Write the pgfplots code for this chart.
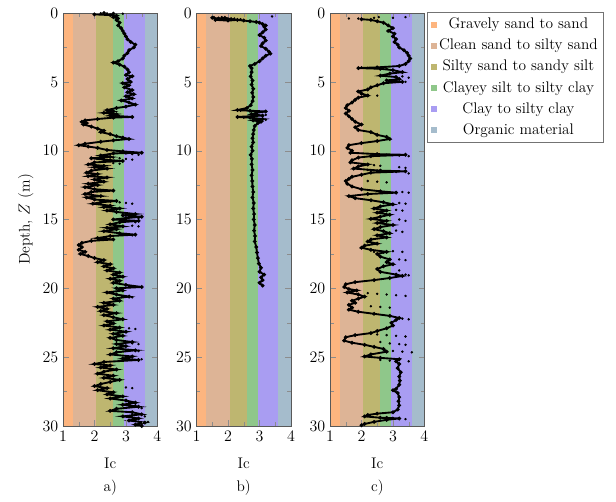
\documentclass[border=0pt]{standalone}
\usepackage{pgfplots}
\pgfplotsset{compat=1.18}
\definecolor{orangeL}{RGB}{253,181,127}
\definecolor{tanL}{RGB}{221,180,150}
\definecolor{oliveL}{RGB}{190,182,112}
\definecolor{greenL}{RGB}{143,199,138}
\definecolor{purpleL}{RGB}{169,157,242}
\definecolor{blueL}{RGB}{165,188,204}
\pgfplotsset{
  cptstyle/.style={
    scale only axis, width=70.8pt, height=309.75pt,
    anchor=south west,
    xmin=1, xmax=4, ymin=0, ymax=30, y dir=reverse,
    xtick={1,2,3,4}, ytick={0,5,...,30},
    minor xtick={1.5,2.5,3.5}, minor ytick={2.5,7.5,...,27.5},
    tick style={black!45}, axis line style={black!65},
    axis on top,
    xlabel={Ic},
    xlabel style={at={(axis description cs:0.5,0)}, anchor=center, yshift=-27.75pt},
    font=\fontsize{11.5}{13.8}\selectfont,
    tick label style={font=\fontsize{11.5}{13.8}\selectfont},
    label style={font=\fontsize{11.5}{13.8}\selectfont},
  },
  trace/.style={black, line width=1.4pt, mark=*, mark size=0.6pt},
  dotrow/.style={black, only marks, mark=*, mark size=0.7pt},
}
\newcommand{\bands}{%
  \fill[orangeL] (axis cs:1,0) rectangle (axis cs:1.31,30);
  \fill[tanL] (axis cs:1.31,0) rectangle (axis cs:2.05,30);
  \fill[oliveL] (axis cs:2.05,0) rectangle (axis cs:2.6,30);
  \fill[greenL] (axis cs:2.6,0) rectangle (axis cs:2.95,30);
  \fill[purpleL] (axis cs:2.95,0) rectangle (axis cs:3.6,30);
  \fill[blueL] (axis cs:3.6,0) rectangle (axis cs:4,30);
}
\begin{document}
\begin{tikzpicture}
\path[use as bounding box] (0,0) rectangle (462pt,375.75pt);
% ---------------- a)
\begin{axis}[cptstyle, at={(47.25pt,56.25pt)}, ylabel={Depth, $Z$ (m)}]
\bands
\addplot[trace] coordinates {
(2.3,0.0)(2.6,0.05)(2.0,0.1)(2.5,0.15)(2.7,0.2)(2.6,0.3)(2.75,0.4)(2.7,0.5)(2.8,0.7)(2.75,0.9)(2.85,1.1)(2.9,1.3)(2.95,1.5)(3.0,1.7)(3.05,1.9)(3.15,2.1)(3.3,2.3)(3.25,2.5)(3.1,2.7)(3.05,2.9)(2.95,3.1)(2.9,3.3)(2.75,3.5)(2.6,3.6)(2.8,3.75)(2.95,3.9)(3.05,4.1)(3.1,4.3)(3.0,4.5)(3.2,4.6)(3.05,4.8)(3.15,5.0)(2.9,5.1)(3.1,5.25)(2.95,5.4)(3.2,5.6)(3.05,5.75)(3.25,5.9)(3.0,6.05)(3.2,6.2)(2.85,6.35)(3.1,6.5)(3.3,6.65)(3.0,6.8)(2.7,6.9)(2.4,7.05)(2.6,7.15)(2.3,7.25)(2.7,7.35)(2.5,7.45)(3.2,7.55)(2.6,7.6)(2.1,7.7)(1.7,7.8)(1.6,7.9)(1.75,8.0)(1.65,8.1)(1.9,8.25)(2.1,8.4)(2.3,8.55)(2.2,8.65)(2.5,8.8)(2.7,8.95)(2.9,9.05)(3.1,9.15)(2.6,9.25)(2.2,9.35)(1.7,9.5)(1.5,9.6)(1.8,9.7)(2.1,9.8)(2.4,9.95)(2.9,10.05)(3.5,10.15)(2.6,10.2)(2.2,10.35)(2.5,10.45)(1.9,10.55)(2.3,10.65)(2.9,10.75)(2.0,10.85)(1.8,11.0)(2.3,11.1)(2.0,11.2)(2.4,11.3)(1.9,11.45)(1.75,11.6)(2.1,11.7)(1.8,11.85)(2.4,11.95)(2.0,12.1)(2.3,12.25)(1.8,12.4)(2.1,12.5)(1.7,12.65)(2.0,12.8)(2.6,12.9)(1.9,13.0)(1.7,13.15)(2.2,13.3)(1.75,13.4)(2.0,13.55)(2.7,13.65)(2.2,13.75)(1.95,13.85)(2.5,14.0)(2.3,14.1)(2.8,14.2)(2.4,14.35)(2.7,14.45)(3.3,14.6)(2.9,14.7)(3.5,14.8)(3.0,14.9)(2.6,15.0)(3.4,15.1)(2.8,15.2)(2.5,15.35)(2.9,15.5)(2.4,15.6)(2.7,15.7)(2.3,15.85)(2.8,16.0)(3.3,16.1)(2.5,16.2)(2.1,16.35)(2.6,16.45)(1.9,16.55)(1.6,16.7)(1.5,16.85)(1.6,17.0)(1.5,17.2)(1.7,17.35)(1.55,17.5)(1.8,17.65)(2.0,17.8)(2.3,17.95)(2.1,18.1)(2.5,18.25)(2.3,18.4)(2.6,18.55)(2.4,18.7)(2.8,18.85)(2.6,19.0)(2.9,19.15)(2.5,19.3)(2.8,19.45)(2.6,19.6)(3.0,19.75)(3.5,19.9)(2.7,20.0)(2.9,20.15)(2.4,20.3)(2.7,20.45)(3.1,20.6)(2.6,20.75)(2.8,20.9)(2.3,21.05)(2.6,21.2)(2.1,21.35)(2.4,21.5)(2.2,21.65)(2.7,21.8)(2.3,21.95)(2.6,22.1)(2.9,22.25)(2.4,22.4)(2.6,22.55)(2.3,22.7)(2.8,22.85)(2.5,23.0)(3.0,23.15)(2.6,23.3)(2.9,23.45)(2.5,23.6)(2.7,23.75)(3.2,23.9)(2.7,24.05)(3.0,24.2)(2.6,24.35)(3.3,24.5)(2.7,24.65)(2.5,24.8)(3.2,24.95)(2.9,25.1)(3.4,25.2)(2.3,25.35)(2.0,25.5)(2.5,25.6)(2.2,25.75)(2.7,25.9)(2.3,26.05)(2.1,26.2)(2.6,26.35)(2.3,26.5)(2.8,26.65)(2.5,26.8)(2.2,26.95)(2.0,27.1)(2.4,27.25)(2.1,27.4)(2.6,27.55)(2.4,27.7)(2.9,27.85)(2.5,28.0)(3.0,28.15)(3.3,28.3)(2.9,28.45)(3.4,28.6)(2.7,28.75)(2.5,28.9)(3.2,29.0)(3.5,29.15)(2.9,29.3)(3.4,29.45)(3.1,29.6)(3.6,29.75)(3.3,29.9)(3.5,30.0)
};
\addplot[dotrow] coordinates {
(2.2,0.02)(2.4,0.03)(2.9,0.05)(3.0,10.2)(3.2,10.25)(3.4,10.3)(2.6,10.5)(2.8,10.55)(3.0,10.6)(3.2,10.65)(2.6,10.9)(2.8,10.95)
(2.5,13.7)(2.8,13.75)(3.0,13.8)(3.2,13.85)(2.9,14.6)(3.1,14.65)(3.4,14.9)(3.3,15.2)(3.2,15.45)(3.4,15.5)(3.0,16.05)(3.2,16.15)
(3.1,19.85)(3.3,19.9)(3.0,20.6)(3.2,20.65)(3.1,22.9)(3.3,22.95)(3.2,24.0)(3.4,24.05)(3.1,24.5)(3.4,24.55)(3.5,25.15)(3.2,25.2)
(3.0,27.2)(3.2,27.25)(3.1,28.3)(3.3,28.5)(3.5,28.7)(3.2,29.2)(3.6,29.3)(3.3,29.6)(3.5,29.85)(3.7,29.7)
};
\end{axis}
\node at (82.65pt,9.75pt) {\fontsize{11.5}{13.8}\selectfont a)};
% ---------------- b)
\begin{axis}[cptstyle, at={(147.4pt,56.25pt)}]
\bands
\addplot[trace] coordinates {
(1.5,0.35)(1.7,0.4)(1.9,0.35)(2.1,0.45)(1.6,0.5)(2.0,0.55)(2.3,0.5)(2.5,0.55)(2.7,0.6)(2.9,0.65)(3.0,0.7)(3.1,0.8)(3.2,0.9)(3.15,1.0)(3.2,1.2)(3.1,1.4)(3.0,1.6)(3.15,1.8)(3.2,2.0)(3.1,2.2)(3.05,2.4)(3.2,2.6)(3.3,2.8)(3.35,2.95)(3.2,3.1)(3.1,3.3)(3.0,3.5)(2.85,3.7)(2.7,3.85)(2.75,4.0)(2.75,4.3)(2.72,4.6)(2.78,4.9)(2.75,5.2)(2.8,5.5)(2.77,5.8)(2.8,6.1)(2.78,6.4)(2.72,6.7)(2.6,6.9)(2.3,7.05)(2.7,7.1)(3.2,7.15)(2.9,7.25)(2.75,7.35)(3.1,7.45)(2.3,7.55)(2.7,7.6)(3.1,7.7)(2.8,7.8)(3.05,7.9)(2.95,8.0)(2.85,8.2)(2.82,8.5)(2.8,8.8)(2.78,9.1)(2.8,9.4)(2.75,9.7)(2.78,10.0)(2.72,10.3)(2.76,10.6)(2.75,11.0)(2.78,11.4)(2.75,11.8)(2.77,12.2)(2.78,12.6)(2.8,13.0)(2.78,13.4)(2.82,13.8)(2.8,14.2)(2.83,14.6)(2.82,15.0)(2.85,15.4)(2.83,15.8)(2.86,16.2)(2.85,16.6)(2.9,17.0)(2.92,17.4)(2.95,17.8)(2.98,18.2)(3.05,18.5)(3.0,18.8)(3.15,19.0)(3.05,19.2)(3.1,19.4)(3.0,19.6)(3.1,19.8)
};
\addplot[dotrow] coordinates {
(1.55,0.3)(1.8,0.3)(2.0,0.4)(2.2,0.4)(2.4,0.45)(3.4,0.25)(2.4,7.1)(2.5,7.6)(3.2,7.4)(3.2,7.75)
};
\end{axis}
\node at (182.8pt,9.75pt) {\fontsize{11.5}{13.8}\selectfont b)};
% ---------------- c)
\begin{axis}[cptstyle, at={(247.5pt,56.25pt)},
  legend style={at={(1.032,1.003)}, anchor=north west, draw=black!55,
    font=\fontsize{11.5}{13.8}\selectfont, cells={anchor=center},
    row sep=2.2pt, inner sep=2.5pt},
  legend cell align=center]
\addlegendimage{only marks, mark=square*, mark size=2pt, color=orangeL}
\addlegendentry{Gravely sand to sand}
\addlegendimage{only marks, mark=square*, mark size=2pt, color=tanL}
\addlegendentry{Clean sand to silty sand}
\addlegendimage{only marks, mark=square*, mark size=2pt, color=oliveL}
\addlegendentry{Silty sand to sandy silt}
\addlegendimage{only marks, mark=square*, mark size=2pt, color=greenL}
\addlegendentry{Clayey silt to silty clay}
\addlegendimage{only marks, mark=square*, mark size=2pt, color=purpleL}
\addlegendentry{Clay to silty clay}
\addlegendimage{only marks, mark=square*, mark size=2pt, color=blueL}
\addlegendentry{Organic material}
\bands
\addplot[trace, forget plot] coordinates {
(2.0,0.45)(2.3,0.5)(2.5,0.6)(2.7,0.7)(2.85,0.9)(3.0,1.1)(2.85,1.3)(3.05,1.5)(3.0,1.7)(3.1,1.9)(3.05,2.1)(3.15,2.3)(3.2,2.5)(3.35,2.7)(3.45,2.9)(3.5,3.1)(3.55,3.3)(3.5,3.5)(3.4,3.7)(3.2,3.85)(2.5,3.95)(1.9,4.0)(2.6,4.05)(3.0,4.15)(3.3,4.3)(2.9,4.4)(2.6,4.55)(3.1,4.65)(3.2,4.8)(2.8,4.9)(3.3,5.0)(2.7,5.1)(2.5,5.25)(2.3,5.4)(2.2,5.55)(1.9,5.7)(2.0,5.85)(2.2,6.0)(1.9,6.15)(1.8,6.3)(1.7,6.5)(1.55,6.7)(1.5,6.9)(1.6,7.1)(1.5,7.3)(1.6,7.5)(1.7,7.7)(1.8,7.9)(2.0,8.1)(1.8,8.3)(1.9,8.5)(2.3,8.65)(2.5,8.85)(2.8,9.0)(2.9,9.15)(2.5,9.3)(2.0,9.45)(1.6,9.6)(1.55,9.8)(1.7,10.0)(1.65,10.15)(2.5,10.25)(3.4,10.3)(2.3,10.4)(1.9,10.5)(1.7,10.7)(1.65,10.85)(2.2,11.0)(1.9,11.15)(1.75,11.3)(2.6,11.45)(3.4,11.5)(2.3,11.6)(2.0,11.75)(1.7,11.9)(1.6,12.05)(1.5,12.2)(1.55,12.4)(1.7,12.6)(2.0,12.8)(2.6,12.95)(3.1,13.05)(2.2,13.15)(1.6,13.3)(1.8,13.45)(2.3,13.6)(2.7,13.75)(3.0,13.9)(2.6,14.05)(2.4,14.2)(2.8,14.35)(2.5,14.5)(2.9,14.65)(2.6,14.8)(2.3,14.95)(2.8,15.1)(2.5,15.25)(3.0,15.4)(2.6,15.55)(2.4,15.7)(2.7,15.85)(2.9,16.0)(2.5,16.15)(2.8,16.3)(2.3,16.45)(2.2,16.6)(2.5,16.75)(2.1,16.9)(2.0,17.05)(2.3,17.2)(2.8,17.35)(2.5,17.5)(2.6,17.7)(2.9,17.9)(2.8,18.1)(3.0,18.25)(2.7,18.4)(2.5,18.6)(2.6,18.8)(3.1,19.0)(3.3,19.1)(2.9,19.25)(2.4,19.4)(1.8,19.55)(1.5,19.7)(1.45,19.9)(1.6,20.05)(1.85,20.15)(1.55,20.3)(1.9,20.45)(2.1,20.6)(1.9,20.75)(1.7,20.9)(1.8,21.05)(1.6,21.2)(1.7,21.4)(1.6,21.55)(1.9,21.7)(2.4,21.85)(2.9,22.0)(3.2,22.15)(3.1,22.3)(2.95,22.5)(3.0,22.7)(2.8,22.9)(2.5,23.1)(2.3,23.25)(1.8,23.4)(1.5,23.55)(1.45,23.8)(1.7,23.95)(2.1,24.1)(2.4,24.25)(2.7,24.4)(2.8,24.6)(2.3,24.8)(2.1,24.95)(2.6,25.05)(3.2,25.15)(3.1,25.3)(3.2,25.5)(3.15,25.8)(3.25,26.1)(3.2,26.4)(3.22,26.7)(3.2,27.0)(3.1,27.3)(3.0,27.4)(3.15,27.6)(3.2,27.9)(3.18,28.2)(3.2,28.5)(3.15,28.8)(3.0,29.0)(2.5,29.1)(2.2,29.2)(2.1,29.3)(2.6,29.4)(3.2,29.45)(2.8,29.55)(2.4,29.7)(2.1,29.85)(2.0,29.95)
};
\addplot[dotrow, forget plot] coordinates {
(1.6,0.4)(1.9,0.4)(2.4,0.35)(2.55,0.3)(3.0,0.35)(3.4,0.3)
(2.0,3.95)(2.2,3.98)(2.4,4.0)(2.6,4.02)(2.8,4.05)(3.3,4.6)(3.5,4.7)(3.4,5.0)
(2.0,5.9)(2.2,5.95)(2.5,6.0)
(2.8,10.3)(3.0,10.32)(3.2,10.35)(3.5,10.4)(2.2,11.0)(2.4,11.05)(2.6,11.1)(3.2,11.2)(3.4,11.25)
(2.2,11.4)(2.5,11.45)(2.8,11.5)(3.1,11.55)(3.5,11.65)(2.2,12.2)(2.5,12.25)(2.8,12.3)
(3.3,13.0)(3.5,13.05)(3.2,13.8)(3.4,13.85)(3.1,14.3)(3.3,14.35)(3.2,15.0)(3.4,15.1)(3.1,15.8)(3.3,15.9)
(2.4,17.35)(2.7,17.4)(3.0,17.3)(3.3,17.35)(3.2,17.9)(3.4,17.95)(3.2,18.7)(3.4,19.0)(3.5,19.05)
(2.2,20.35)(2.5,20.4)(2.8,20.45)(3.1,20.5)(3.4,20.55)(2.3,21.3)(2.6,21.35)(2.9,21.4)
(3.3,22.2)(3.5,22.25)(2.5,23.35)(2.8,23.4)(3.1,23.45)(3.4,23.5)(2.6,23.9)(2.9,24.0)(3.2,24.05)(3.4,24.1)
(3.0,24.55)(3.3,24.6)(3.6,24.65)(2.6,25.2)(2.9,25.25)(3.5,25.3)(2.8,29.35)(3.0,29.4)(3.4,29.5)
};
\end{axis}
\node at (283.1pt,9.75pt) {\fontsize{11.5}{13.8}\selectfont c)};
\end{tikzpicture}
\end{document}
